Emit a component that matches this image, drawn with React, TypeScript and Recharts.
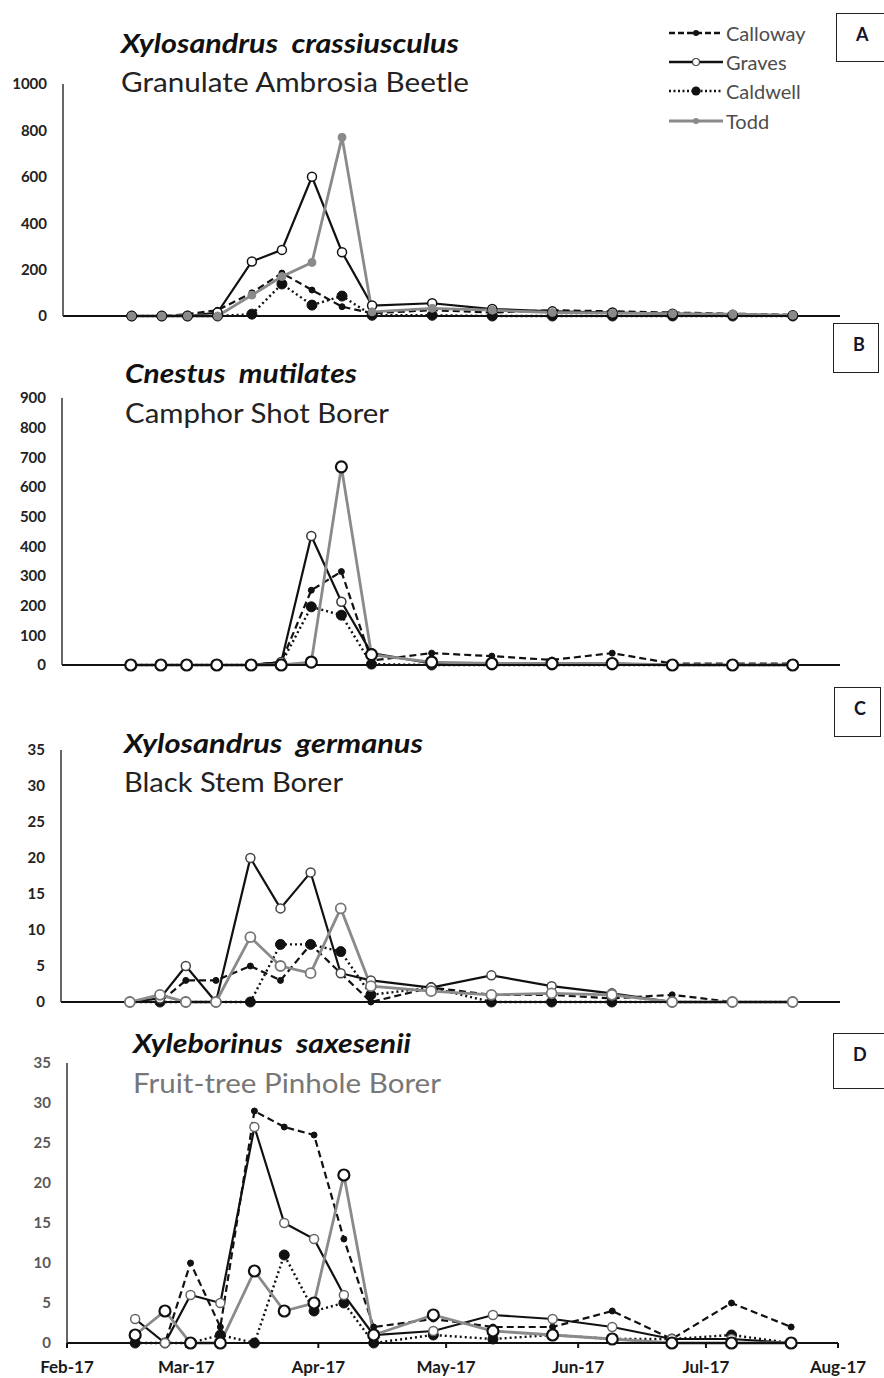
import { LineChart, Line, XAxis, YAxis, Legend } from "recharts";

// sampling dates
const DATES = [
  "2017-02-17", "2017-02-24", "2017-03-02", "2017-03-09", "2017-03-17", "2017-03-24",
  "2017-03-31", "2017-04-07", "2017-04-14", "2017-04-28", "2017-05-12", "2017-05-26",
  "2017-06-09", "2017-06-23", "2017-07-07", "2017-07-21",
];
const MONTH_STARTS = ["2017-02-01", "2017-03-01", "2017-04-01", "2017-05-01", "2017-06-01", "2017-07-01", "2017-08-01"];
const MONTH_LABELS = ["Feb-17", "Mar-17", "Apr-17", "May-17", "Jun-17", "Jul-17", "Aug-17"];
const SITES = ["Calloway", "Graves", "Caldwell", "Todd"];

// A - Xylosandrus crassiusculus
const A_CALLOWAY = [0, 0, 8, 25, 100, 185, 112, 40, 12, 25, 15, 25, 20, 15, 10, 5];
const A_GRAVES = [0, 0, 0, 15, 235, 285, 600, 275, 45, 55, 30, 20, 15, 10, 5, 3];
const A_CALDWELL = [0, 0, 0, 0, 8, 138, 47, 86, 3, 3, 0, 0, 0, 0, 0, 0];
const A_TODD = [0, 0, 0, 0, 90, 170, 231, 770, 18, 33, 25, 15, 12, 10, 8, 3];

// B - Cnestus mutilates
const B_CALLOWAY = [0, 0, 0, 0, 0, 10, 252, 315, 15, 40, 30, 17, 40, 5, 5, 5];
const B_GRAVES = [0, 0, 0, 0, 0, 10, 435, 213, 40, 5, 5, 5, 5, 0, 0, 0];
const B_CALDWELL = [0, 0, 0, 0, 0, 5, 196, 168, 3, 0, 0, 0, 0, 0, 0, 0];
const B_TODD = [0, 0, 0, 0, 0, 0, 10, 668, 35, 10, 5, 5, 5, 0, 0, 0];

// C - Xylosandrus germanus
const C_CALLOWAY = [0, 0, 3, 3, 5, 3, 8, 4, 0, 2, 1, 1, 0.5, 1, 0, 0];
const C_GRAVES = [0, 0.5, 5, 0, 20, 13, 18, 4, 3, 2, 3.7, 2.2, 1.2, 0, 0, 0];
const C_CALDWELL = [0, 0, 0, 0, 0, 8, 8, 7, 1, 2, 0, 0, 0, 0, 0, 0];
const C_TODD = [0, 1, 0, 0, 9, 5, 4, 13, 2.2, 1.5, 1, 1.2, 1, 0, 0, 0];

// D - Xyleborinus saxesenii
const D_CALLOWAY = [0, 0, 10, 2, 29, 27, 26, 13, 2, 3, 2, 2, 4, 0.5, 5, 2];
const D_GRAVES = [3, 0, 6, 5, 27, 15, 13, 6, 1, 1.5, 3.5, 3, 2, 0.5, 0.5, 0];
const D_CALDWELL = [0, 0, 0, 1, 0, 11, 4, 5, 0, 1, 0.5, 1, 0.5, 0.5, 1, 0];
const D_TODD = [1, 4, 0, 0, 9, 4, 5, 21, 1, 3.5, 1.5, 1, 0.5, 0, 0, 0];

const TICKS_A = [0, 200, 400, 600, 800, 1000];
const TICKS_B = [0, 100, 200, 300, 400, 500, 600, 700, 800, 900];
const TICKS_CD = [0, 5, 10, 15, 20, 25, 30, 35];

const dayOf = (iso: string) => Math.round((Date.parse(iso) - Date.parse("2017-02-01")) / 86400000);
const MONTH_DAYS = MONTH_STARTS.map(dayOf);

const FONT = "Lato, 'Open Sans', sans-serif";
const GRAY = "#8a8a8a";

const openDot = (r: number, stroke: string, sw: number) => ({ r, fill: "#fff", stroke, strokeWidth: sw, strokeDasharray: "none" });
const solidDot = (r: number, color: string) => ({ r, fill: color, stroke: color, strokeWidth: 1, strokeDasharray: "none" });

const PANELS = [
  {
    id: "A", series: [A_CALLOWAY, A_GRAVES, A_CALDWELL, A_TODD], yTicks: TICKS_A,
    divTop: 0, top: 84, bottom: 316, left: 63, right: 840, showX: false, legend: true,
    toddDot: solidDot(4, GRAY), gravesDot: openDot(4.5, "#111", 1.5), yColor: "#222",
  },
  {
    id: "B", series: [B_CALLOWAY, B_GRAVES, B_CALDWELL, B_TODD], yTicks: TICKS_B,
    divTop: 330, top: 398, bottom: 665, left: 62, right: 840, showX: false, legend: false,
    toddDot: openDot(5.5, "#111", 2.2), gravesDot: openDot(4.5, "#333", 1.5), yColor: "#222",
  },
  {
    id: "C", series: [C_CALLOWAY, C_GRAVES, C_CALDWELL, C_TODD], yTicks: TICKS_CD,
    divTop: 690, top: 750, bottom: 1002, left: 61, right: 840, showX: false, legend: false,
    toddDot: openDot(5, "#777", 1.8), gravesDot: openDot(4.5, "#444", 1.5), yColor: "#222",
  },
  {
    id: "D", series: [D_CALLOWAY, D_GRAVES, D_CALDWELL, D_TODD], yTicks: TICKS_CD,
    divTop: 1030, top: 1063, bottom: 1343, left: 67, right: 838, showX: true, legend: false,
    toddDot: openDot(5.5, "#111", 2.2), gravesDot: openDot(4.5, "#666", 1.5), yColor: "#595959",
  },
];

const TITLES = [
  { x: 121, y: 53, text: "Xylosandrus  crassiusculus", len: 338, italic: true, color: "#111" },
  { x: 121, y: 92, text: "Granulate Ambrosia Beetle", len: 348, italic: false, color: "#222" },
  { x: 125, y: 383, text: "Cnestus  mutilates", len: 232, italic: true, color: "#111" },
  { x: 125, y: 423, text: "Camphor Shot Borer", len: 264, italic: false, color: "#222" },
  { x: 124, y: 753, text: "Xylosandrus  germanus", len: 299, italic: true, color: "#111" },
  { x: 124, y: 792, text: "Black Stem Borer", len: 219, italic: false, color: "#222" },
  { x: 133, y: 1053, text: "Xyleborinus  saxesenii", len: 278, italic: true, color: "#111" },
  { x: 133, y: 1093, text: "Fruit-tree Pinhole Borer", len: 308, italic: false, color: "#777" },
];

const BOXES = [
  { label: "A", left: 836, top: 13, width: 52, height: 49 },
  { label: "B", left: 833, top: 323, width: 46, height: 50 },
  { label: "C", left: 834, top: 687, width: 47, height: 50 },
  { label: "D", left: 833, top: 1033, width: 54, height: 56 },
];

function LegendRows() {
  return (
    <div style={{ fontFamily: FONT, fontSize: 20, color: "#4d4d4d" }}>
      {SITES.map((name) => (
        <div key={name} style={{ display: "flex", alignItems: "center", height: 29.3 }}>
          <svg width={57} height={20}>
            {name === "Calloway" && (
              <>
                <line x1={1} x2={55} y1={10} y2={10} stroke="#111" strokeWidth={2.4} strokeDasharray="6 3" />
                <circle cx={28} cy={10} r={3} fill="#111" />
              </>
            )}
            {name === "Graves" && (
              <>
                <line x1={1} x2={55} y1={10} y2={10} stroke="#111" strokeWidth={2.4} />
                <circle cx={28} cy={10} r={3.5} fill="#fff" stroke="#444" strokeWidth={1.2} />
              </>
            )}
            {name === "Caldwell" && (
              <>
                <line x1={1} x2={55} y1={10} y2={10} stroke="#111" strokeWidth={2.4} strokeDasharray="2 2.5" />
                <circle cx={28} cy={10} r={4.5} fill="#111" />
              </>
            )}
            {name === "Todd" && (
              <>
                <line x1={1} x2={55} y1={10} y2={10} stroke={GRAY} strokeWidth={2.8} />
                <circle cx={28} cy={10} r={3} fill={GRAY} />
              </>
            )}
          </svg>
          <span style={{ marginLeft: 1 }}>{name}</span>
        </div>
      ))}
    </div>
  );
}

function Panel({ p }: { p: (typeof PANELS)[number] }) {
  const data = DATES.map((d, i) => ({
    day: dayOf(d),
    Calloway: p.series[0][i],
    Graves: p.series[1][i],
    Caldwell: p.series[2][i],
    Todd: p.series[3][i],
  }));
  const yAxisWidth = 50;
  const xAxisHeight = 36;
  const marginTop = p.top - p.divTop;
  const height = p.bottom - p.divTop + xAxisHeight;
  const yMax = p.yTicks[p.yTicks.length - 1];
  return (
    <div style={{ position: "absolute", left: 0, top: p.divTop }}>
      <LineChart
        width={884}
        height={height}
        data={data}
        margin={{ top: marginTop, right: 884 - p.right, bottom: 0, left: p.left - yAxisWidth }}
      >
        <XAxis
          type="number"
          dataKey="day"
          domain={[0, 181]}
          ticks={MONTH_DAYS}
          interval={0}
          height={xAxisHeight}
          stroke="#111"
          strokeWidth={2}
          tickSize={5}
          tickMargin={13}
          tick={p.showX ? { fill: "#1a1a1a", fontSize: 17, fontWeight: 700, fontFamily: FONT } : false}
          tickFormatter={(v: number) => MONTH_LABELS[MONTH_DAYS.indexOf(v)] ?? ""}
        />
        <YAxis
          type="number"
          domain={[0, yMax]}
          ticks={p.yTicks}
          interval={0}
          width={yAxisWidth}
          tickLine={false}
          tickMargin={10}
          axisLine={{ stroke: "#333", strokeWidth: 1.5 }}
          tick={{ fill: p.yColor, fontSize: 15, fontWeight: 700, fontFamily: FONT }}
        />
        {p.legend && (
          <Legend
            layout="vertical"
            align="center"
            verticalAlign="middle"
            wrapperStyle={{ top: 18, left: 668, width: 160 }}
            content={() => <LegendRows />}
          />
        )}
        <Line
          dataKey="Caldwell"
          stroke="#111"
          strokeWidth={2.4}
          strokeDasharray="2 3"
          dot={solidDot(5, "#111")}
          activeDot={false}
          isAnimationActive={false}
        />
        <Line
          dataKey="Calloway"
          stroke="#111"
          strokeWidth={2.2}
          strokeDasharray="7 4"
          dot={solidDot(3, "#111")}
          activeDot={false}
          isAnimationActive={false}
        />
        <Line
          dataKey="Graves"
          stroke="#111"
          strokeWidth={2.2}
          dot={p.gravesDot}
          activeDot={false}
          isAnimationActive={false}
        />
        <Line
          dataKey="Todd"
          stroke={GRAY}
          strokeWidth={2.8}
          dot={p.toddDot}
          activeDot={false}
          isAnimationActive={false}
        />
      </LineChart>
    </div>
  );
}

export default function App() {
  return (
    <div style={{ position: "absolute", left: 0, top: 0, width: 884, height: 1378, background: "#fff", overflow: "hidden" }}>
      {PANELS.map((p) => (
        <Panel key={p.id} p={p} />
      ))}
      <svg width={884} height={1378} style={{ position: "absolute", left: 0, top: 0, pointerEvents: "none" }}>
        {TITLES.map((t) => (
          <text
            key={t.text}
            x={t.x}
            y={t.y}
            textLength={t.len}
            lengthAdjust="spacingAndGlyphs"
            fill={t.color}
            fontFamily={FONT}
            fontSize={26}
            fontStyle={t.italic ? "italic" : "normal"}
            fontWeight={t.italic ? 700 : 400}
            style={{ whiteSpace: "pre" }}
          >
            {t.text}
          </text>
        ))}
      </svg>
      {BOXES.map((b) => (
        <div
          key={b.label}
          style={{
            position: "absolute",
            left: b.left,
            top: b.top,
            width: b.width,
            height: b.height,
            boxSizing: "border-box",
            border: "1.6px solid #222",
            background: "#fff",
            fontFamily: FONT,
            fontWeight: 700,
            fontSize: 18,
            color: "#15152a",
            paddingLeft: 19,
            paddingTop: 9,
          }}
        >
          {b.label}
        </div>
      ))}
    </div>
  );
}
